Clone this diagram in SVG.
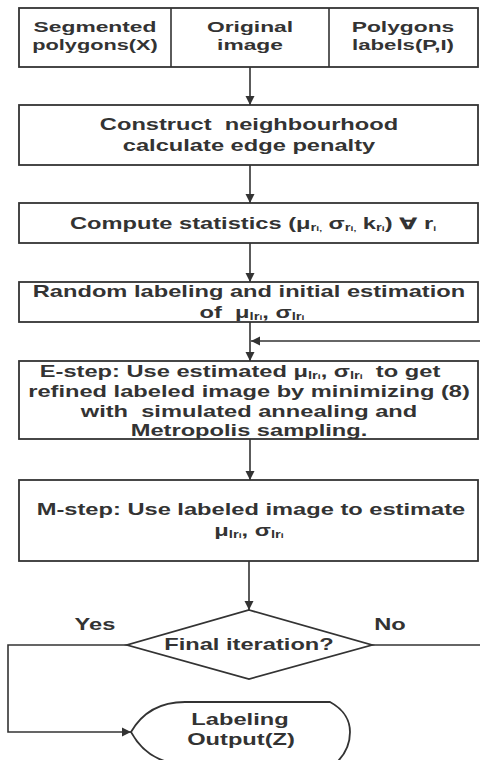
<svg xmlns="http://www.w3.org/2000/svg" width="480" height="760" viewBox="0 0 480 760">
<defs>
<style>
.box{fill:#fff;stroke:#333;stroke-width:1.8}
.ln{fill:none;stroke:#333;stroke-width:1.6}
.t{font-family:"Liberation Sans",Arial,"DejaVu Sans",sans-serif;font-weight:bold;font-size:16px;fill:#333;text-anchor:middle}
.s{font-size:15px}
.sub{font-size:10px}
.sub2{font-size:7px}
</style>
<marker id="ah" markerUnits="userSpaceOnUse" markerWidth="10" markerHeight="10" refX="9" refY="5" orient="auto">
<path d="M0,0.5 L9,5 L0,9.5 z" fill="#333"/>
</marker>
</defs>
<rect width="480" height="760" fill="#fff"/>

<g id="inputs">
<rect class="box" x="19" y="8" width="459" height="59"/>
<line class="ln" x1="171" y1="8" x2="171" y2="67" stroke-width="1.8"/>
<line class="ln" x1="329" y1="8" x2="329" y2="67" stroke-width="1.8"/>
<text class="t s" transform="translate(95,32) scale(1.52,1)">Segmented</text>
<text class="t s" transform="translate(95,50) scale(1.45,1)">polygons(X)</text>
<text class="t s" transform="translate(250,32) scale(1.52,1)">Original</text>
<text class="t s" transform="translate(250,50) scale(1.52,1)">image</text>
<text class="t s" transform="translate(403,32) scale(1.52,1)">Polygons</text>
<text class="t s" transform="translate(403,50) scale(1.48,1)">labels(P,I)</text>
</g>

<g id="construct">
<rect class="box" x="19" y="105" width="459" height="60"/>
<text class="t" transform="translate(249,130) scale(1.48,1)" xml:space="preserve">Construct  neighbourhood</text>
<text class="t" transform="translate(249,151) scale(1.48,1)">calculate edge penalty</text>
</g>

<g id="statistics">
<rect class="box" x="19" y="203" width="459" height="40"/>
<text class="t" transform="translate(253,229) scale(1.48,1)">Compute statistics (μ<tspan class="sub" dy="2">r</tspan><tspan class="sub2">i,</tspan><tspan dy="-2"> σ</tspan><tspan class="sub" dy="2">r</tspan><tspan class="sub2">i,</tspan><tspan dy="-2"> k</tspan><tspan class="sub" dy="2">r</tspan><tspan class="sub2">i</tspan><tspan dy="-2">) ∀ r</tspan><tspan class="sub2" dy="2">i</tspan></text>
</g>

<g id="init">
<rect class="box" x="19" y="282" width="459" height="40"/>
<text class="t" transform="translate(249,297) scale(1.48,1)">Random labeling and initial estimation</text>
<text class="t" transform="translate(252,318) scale(1.48,1)" xml:space="preserve">of  μ<tspan class="sub" dy="2">lr</tspan><tspan class="sub2">i</tspan><tspan dy="-2">, σ</tspan><tspan class="sub" dy="2">lr</tspan><tspan class="sub2">i</tspan></text>
</g>

<g id="estep">
<rect class="box" x="19" y="361" width="459" height="78"/>
<text class="t" transform="translate(240,377) scale(1.48,1)" xml:space="preserve">E-step: Use estimated μ<tspan class="sub" dy="2">lr</tspan><tspan class="sub2">i</tspan><tspan dy="-2">, σ</tspan><tspan class="sub" dy="2">lr</tspan><tspan class="sub2">i</tspan><tspan dy="-2">  to get</tspan></text>
<text class="t" transform="translate(249,397) scale(1.48,1)">refined labeled image by minimizing (8)</text>
<text class="t" transform="translate(249,417) scale(1.48,1)" xml:space="preserve">with  simulated annealing and</text>
<text class="t" transform="translate(249,436) scale(1.48,1)">Metropolis sampling.</text>
</g>

<g id="mstep">
<rect class="box" x="19" y="480" width="459" height="81"/>
<text class="t" transform="translate(251,515) scale(1.48,1)">M-step: Use labeled image to estimate</text>
<text class="t" transform="translate(249,536) scale(1.48,1)">μ<tspan class="sub" dy="2">lr</tspan><tspan class="sub2">i</tspan><tspan dy="-2">, σ</tspan><tspan class="sub" dy="2">lr</tspan><tspan class="sub2">i</tspan></text>
</g>

<g id="decision">
<polygon class="box" points="249,610 372,645 249,679 127,645" stroke-width="1.5"/>
<text class="t" transform="translate(249,650) scale(1.48,1)">Final iteration?</text>
</g>

<g id="output">
<path class="box" d="M131,732 C142,713 160,702 185,702 L330,702 C345,710 350,722 350,732 C350,745 345,755 335,764 L185,764 C160,764 142,752 131,732 z" stroke-width="1.5"/>
<text class="t" transform="translate(240,725) scale(1.48,1)">Labeling</text>
<text class="t" transform="translate(241,745) scale(1.48,1)">Output(Z)</text>
</g>

<g id="connectors">
<line class="ln" x1="250" y1="67" x2="250" y2="105" marker-end="url(#ah)"/>
<line class="ln" x1="250" y1="165" x2="250" y2="203" marker-end="url(#ah)"/>
<line class="ln" x1="250" y1="243" x2="250" y2="282" marker-end="url(#ah)"/>
<line class="ln" x1="250" y1="322" x2="250" y2="361" marker-end="url(#ah)"/>
<line class="ln" x1="480" y1="341" x2="251" y2="341" marker-end="url(#ah)"/>
<line class="ln" x1="250" y1="439" x2="250" y2="480" marker-end="url(#ah)"/>
<line class="ln" x1="249" y1="561" x2="249" y2="610" marker-end="url(#ah)"/>
<polyline class="ln" points="127,645 8,645 8,732 131,732" marker-end="url(#ah)"/>
<line class="ln" x1="372" y1="645" x2="480" y2="645"/>
<text class="t" transform="translate(95,630) scale(1.48,1)">Yes</text>
<text class="t" transform="translate(390,630) scale(1.48,1)">No</text>
</g>
</svg>
